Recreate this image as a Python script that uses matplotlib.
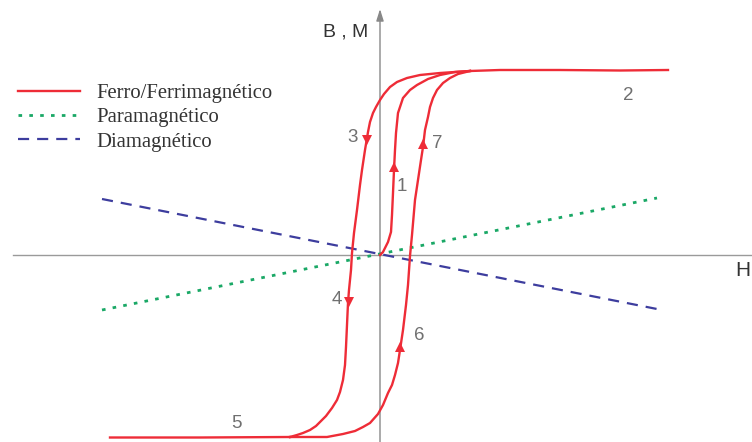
import matplotlib
matplotlib.use("Agg")
import matplotlib.pyplot as plt
from matplotlib.lines import Line2D

# ---------------- data (H, M units; origin at axis crossing) ----------------
para_H = [-278, 277]
para_M = [-55, 57]
dia_H = [-278, 277]
dia_M = [56, -54]

init_H = [0, 3, 8, 11, 12, 13, 14, 15, 16, 18, 23, 30, 37, 48, 60, 75, 90]
init_M = [0, 3, 13, 23, 40, 62, 85, 105, 122, 142, 157, 165, 170, 176, 180, 183, 184]

top_H = [90, 120, 180, 240, 288]
top_M = [184, 185, 185, 184.5, 185]

desc_H = [90, 75, 60, 40, 27, 17, 10, 4, 0, -4, -7, -10, -12, -15, -18, -20, -23, -26,
          -28, -29, -31, -32, -33, -34, -35, -37, -40, -43, -48, -54, -58, -64, -70,
          -77, -83, -90]
desc_M = [184, 183, 182, 180, 177, 173, 168, 161, 155, 148, 142, 133, 123, 105, 85, 70,
          45, 22, 2, -15, -35, -48, -70, -92, -110, -125, -137, -145, -153, -161, -165,
          -171, -175, -178, -180, -182]

bot_H = [-270, -180, -90]
bot_M = [-182.5, -182.5, -182]

asc_H = [-90, -70, -53, -37, -25, -17, -10, -2, 3, 8, 12, 15, 18, 20, 23, 26, 28, 30,
         32, 35, 38, 41, 43, 45, 48, 50, 53, 57, 63, 70, 78, 90]
asc_M = [-182, -182, -182, -179, -176, -172, -168, -159, -150, -138, -130, -120, -108,
         -95, -75, -50, -30, -1, 20, 55, 75, 95, 108, 125, 138, 148, 157, 165, 172, 177,
         181, 184]

arrow_H = [-13, -31, 14, 43, 20]
arrow_M = [115, -47, 88, 111, -92]
arrow_dir = ["down", "down", "up", "up", "up"]

step_labels = ["3", "4", "1", "7", "6", "5", "2"]
step_H = [-27, -43, 22, 57, 39, -144, 248]
step_M = [118, -45, 68, 112, -80, -168, 159]

legend_labels = ["Ferro/Ferrimagnético", "Paramagnético", "Diamagnético"]

# ---------------- figure ----------------
RED = "#ee2c37"
GREEN = "#1aa866"
BLUE = "#3d3d9e"
AXIS = "#9a9a9a"

fig = plt.figure(figsize=(7.52, 4.42), dpi=100)
ax = fig.add_axes([0, 0, 1, 1])
ax.set_xlim(-380, 372)
ax.set_ylim(-187, 255)
ax.axis("off")

# axes
ax.plot([-367, 372], [0, 0], color=AXIS, lw=1.0, zorder=1)
ax.annotate("", xy=(0, 246), xytext=(0, -190),
            arrowprops=dict(arrowstyle="-|>,head_length=0.7,head_width=0.22",
                            color="#888888", lw=1.0, shrinkA=0, shrinkB=0), zorder=1)

# para / dia
ax.plot(para_H, para_M, color=GREEN, lw=2.0, linestyle=(0, (1.3, 2.6)), zorder=2)
ax.plot(dia_H, dia_M, color=BLUE, lw=1.6, linestyle=(0, (5, 3.6)), zorder=2)

# ferro
lw = 1.7
ax.plot(init_H, init_M, color=RED, lw=lw, zorder=3, solid_joinstyle="round")
ax.plot(top_H, top_M, color=RED, lw=lw, zorder=3)
ax.plot(desc_H, desc_M, color=RED, lw=lw, zorder=3, solid_joinstyle="round")
ax.plot(bot_H, bot_M, color=RED, lw=lw, zorder=3)
ax.plot(asc_H, asc_M, color=RED, lw=lw, zorder=3, solid_joinstyle="round")

for h, m, d in zip(arrow_H, arrow_M, arrow_dir):
    ax.plot([h], [m], marker="v" if d == "down" else "^", color=RED,
            markersize=6.5, markeredgewidth=0, zorder=4)

for t, h, m in zip(step_labels, step_H, step_M):
    ax.text(h, m, t, ha="center", va="center", fontsize=13.5, color="#707070",
            family=["Liberation Sans", "DejaVu Sans"], zorder=5)

ax.text(-34, 223, "B , M", ha="center", va="center", fontsize=14, color="#333333",
        family=["Liberation Sans", "DejaVu Sans"])
ax.text(363, -15, "H", ha="center", va="center", fontsize=15, color="#333333",
        family=["Liberation Sans", "DejaVu Sans"])

# legend
handles = [
    Line2D([], [], color=RED, lw=1.7),
    Line2D([], [], color=GREEN, lw=2.0, linestyle=(0, (1.3, 2.6))),
    Line2D([], [], color=BLUE, lw=1.6, linestyle=(0, (5, 3.6))),
]
leg = ax.legend(handles, legend_labels, loc="upper left",
                bbox_to_anchor=(0.0235, 0.811), frameon=False,
                prop={"family": ["Liberation Serif", "DejaVu Serif"], "size": 14.9},
                handlelength=3.0, handletextpad=0.8, labelspacing=0.23,
                borderaxespad=0, borderpad=0)
for txt in leg.get_texts():
    txt.set_color("#333333")

fig.savefig("out.png", dpi=100)
